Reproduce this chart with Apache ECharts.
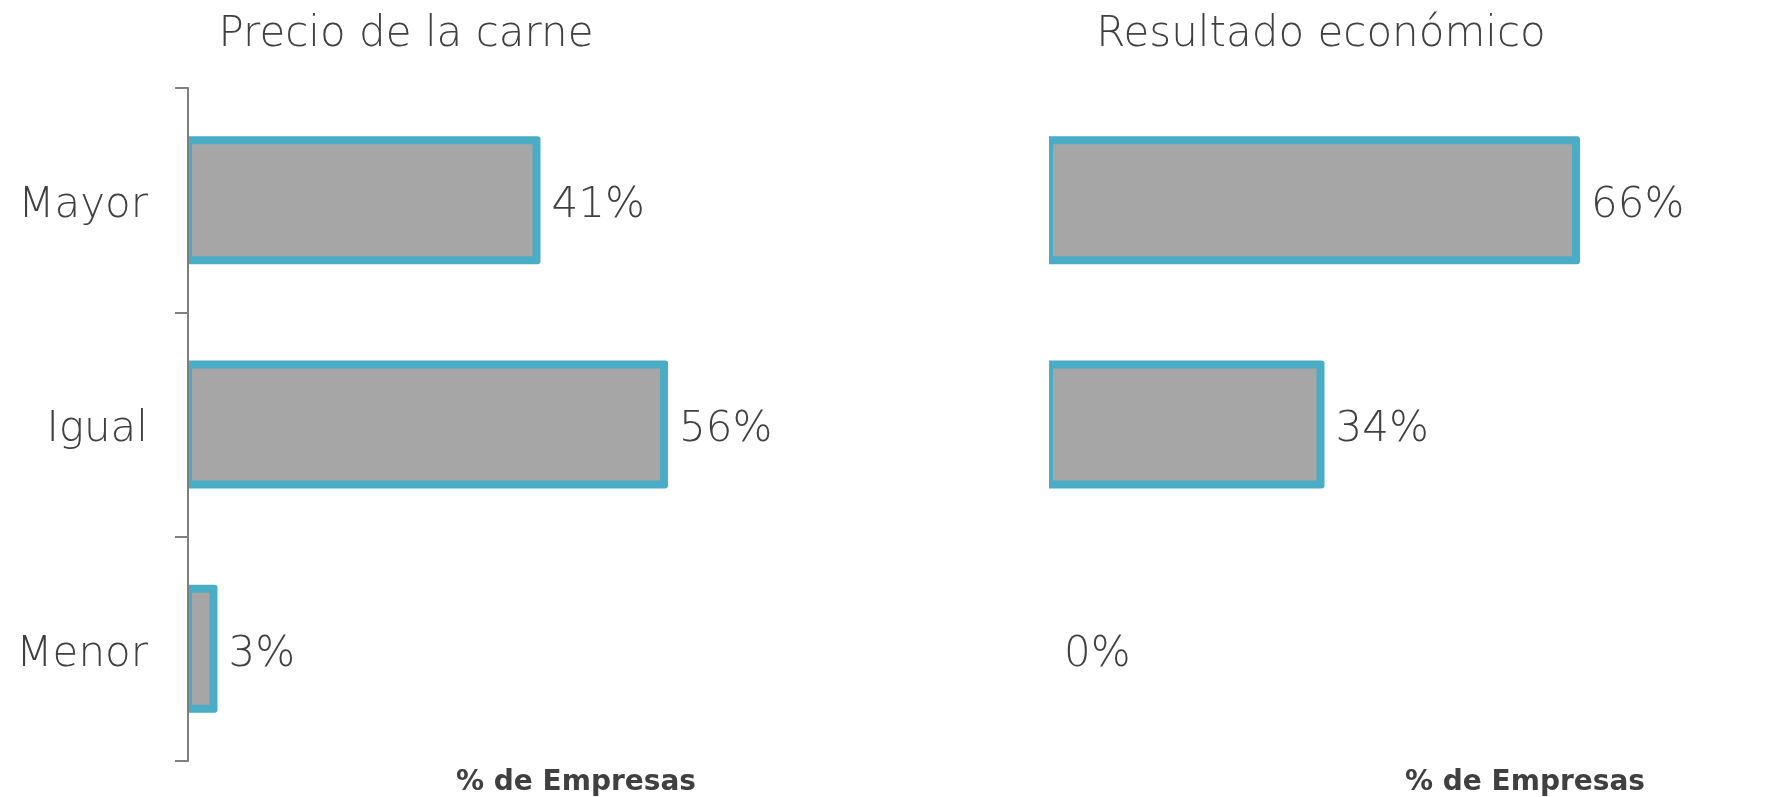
<!DOCTYPE html>
<html>
<head>
<meta charset="utf-8">
<script src="https://cdn.jsdelivr.net/npm/echarts@6/dist/echarts.min.js"></script>
<style>
html,body{margin:0;padding:0;background:#fff;}
#chart{width:1781px;height:797px;}
</style>
</head>
<body>
<div id="chart"></div>
<script>
// ---- data ----
const categories = ['Mayor', 'Igual', 'Menor'];
const precioValues = [41, 56, 3];
const resultadoValues = [66, 34, 0];
const panelTitles = ['Precio de la carne', 'Resultado económico'];
const axisTitle = '% de Empresas';

// ---- style ----
const FONT = '"DejaVu Sans", sans-serif';
const TEXT = '#404040';
const FILL = '#A6A6A6';
const EDGE = '#4BACC6';
const AXIS = '#7F7F7F';
const BORDER = 8;
const TEXT_DROP = 6;

function barSeries(values, idx) {
  return {
    type: 'custom',
    xAxisIndex: idx,
    yAxisIndex: idx,
    data: values.map((v, i) => [v, i]),
    encode: { x: 0, y: 1 },
    renderItem: function (params, api) {
      const v = api.value(0);
      const c = api.value(1);
      const p0 = api.coord([0, c]);
      const p1 = api.coord([v, c]);
      const band = api.size([0, 1])[1];
      const half = band * 0.2673;
      const hb = BORDER / 2;
      const children = [];
      if (v > 0) {
        children.push({
          type: 'rect',
          shape: { x: p0[0], y: p0[1] - half - hb, width: p1[0] - p0[0] + hb, height: 2 * half + BORDER, r: [0, 3, 3, 0] },
          style: { fill: EDGE }
        });
        children.push({
          type: 'rect',
          shape: { x: p0[0] + hb, y: p0[1] - half + hb, width: Math.max(0, p1[0] - p0[0] - BORDER), height: 2 * half - BORDER },
          style: { fill: FILL }
        });
      }
      children.push({
        type: 'text',
        x: p1[0] + 15,
        y: p1[1] + TEXT_DROP,
        style: { text: v + '%', fill: TEXT, fontFamily: FONT, fontSize: 42, fontWeight: 300, align: 'left', verticalAlign: 'middle' }
      });
      return { type: 'group', children: children };
    }
  };
}

const chart = echarts.init(document.getElementById('chart'), null, { renderer: 'canvas' });
chart.setOption({
  backgroundColor: '#ffffff',
  animation: false,
  grid: [
    { left: 188, top: 88, width: 595, height: 673 },
    { left: 1049, top: 88, width: 559, height: 673 }
  ],
  xAxis: [
    { gridIndex: 0, type: 'value', min: 0, max: 70, show: false },
    { gridIndex: 1, type: 'value', min: 0, max: 70, show: false }
  ],
  yAxis: [
    {
      gridIndex: 0, type: 'category', data: categories, inverse: true, z: 5,
      axisLine: { show: true, lineStyle: { color: AXIS, width: 2 } },
      axisTick: { show: true, length: 13, lineStyle: { color: AXIS, width: 2 } },
      axisLabel: { margin: 40, color: TEXT, fontFamily: FONT, fontSize: 42, fontWeight: 300, verticalAlign: 'top', lineHeight: TEXT_DROP * 2 },
      splitLine: { show: false }
    },
    { gridIndex: 1, type: 'category', data: categories, inverse: true, show: false }
  ],
  graphic: [
    { type: 'text', x: 406, y: 35, style: { text: panelTitles[0], fill: TEXT, fontFamily: FONT, fontSize: 42, fontWeight: 300, align: 'center', verticalAlign: 'middle' } },
    { type: 'text', x: 1321, y: 35, style: { text: panelTitles[1], fill: TEXT, fontFamily: FONT, fontSize: 42, fontWeight: 300, align: 'center', verticalAlign: 'middle' } },
    { type: 'text', x: 576, y: 783, style: { text: axisTitle, fill: TEXT, fontFamily: FONT, fontSize: 28, fontWeight: 'bold', align: 'center', verticalAlign: 'middle' } },
    { type: 'text', x: 1525, y: 783, style: { text: axisTitle, fill: TEXT, fontFamily: FONT, fontSize: 28, fontWeight: 'bold', align: 'center', verticalAlign: 'middle' } }
  ],
  series: [barSeries(precioValues, 0), barSeries(resultadoValues, 1)]
});
</script>
</body>
</html>
